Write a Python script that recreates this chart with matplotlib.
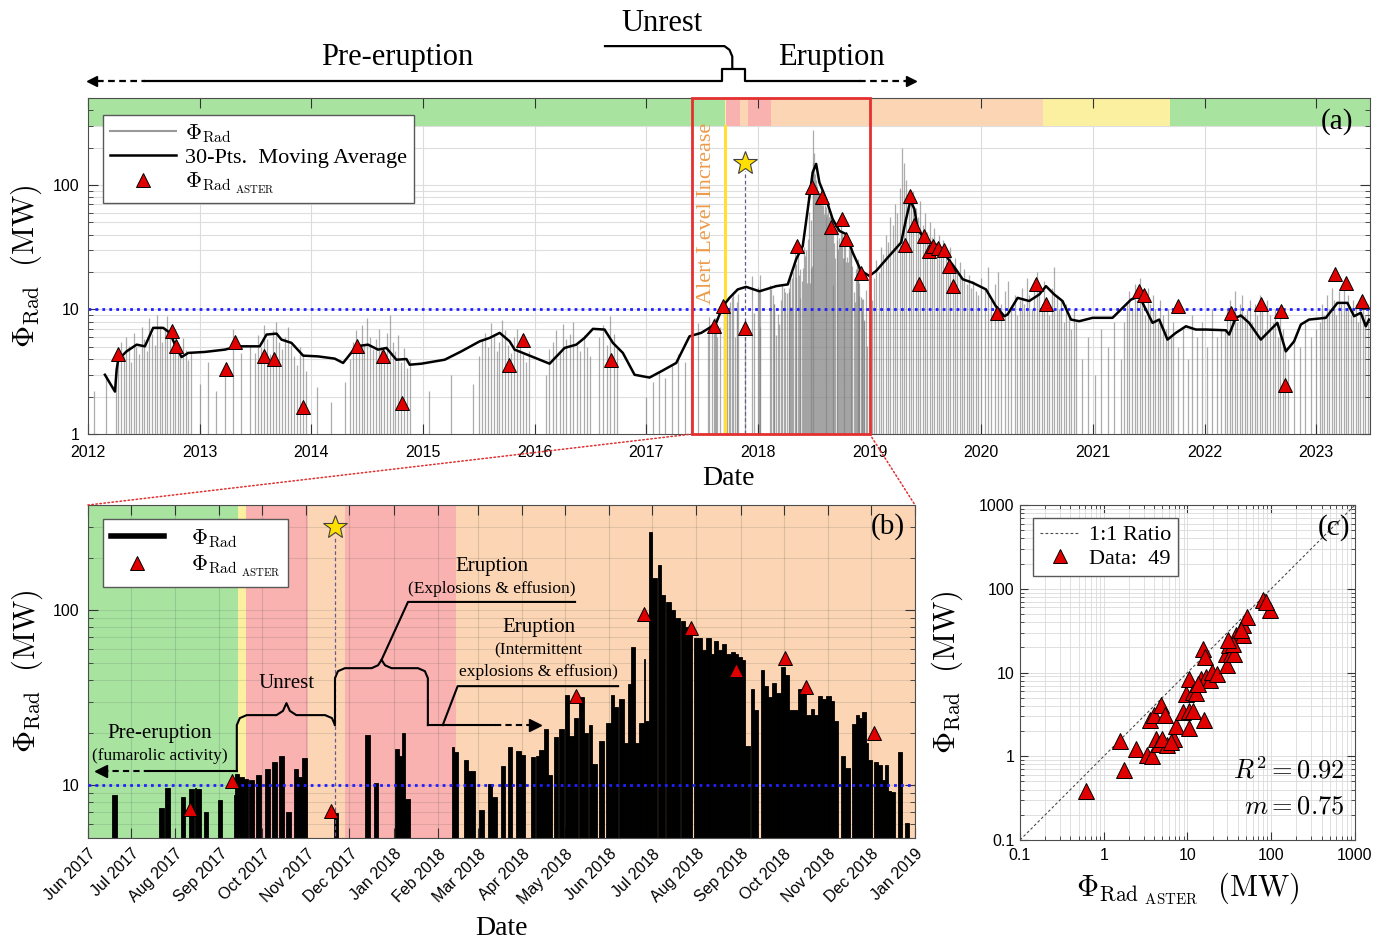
import numpy as np
import pandas as pd
import matplotlib
matplotlib.use("Agg")
import matplotlib.pyplot as plt
from matplotlib.lines import Line2D
from matplotlib.patches import Rectangle, ConnectionPatch
from matplotlib.transforms import blended_transform_factory
from matplotlib.ticker import LogLocator, NullFormatter

plt.rcParams['font.family'] = ['Liberation Sans', 'DejaVu Sans']
plt.rcParams['mathtext.fontset'] = 'cm'
SERIF = ['Liberation Serif', 'DejaVu Serif']

# ---------------- data ----------------
# 30-point moving average, panel (a)
ma_year = [2012.152, 2012.242, 2012.257, 2012.271, 2012.346, 2012.436, 2012.510, 2012.584, 2012.674, 2012.734,
           2012.779, 2012.838, 2012.898, 2013.047, 2013.226, 2013.345, 2013.539, 2013.599, 2013.689, 2013.733,
           2013.823, 2013.927, 2014.061, 2014.210, 2014.285, 2014.345, 2014.404, 2014.508, 2014.598, 2014.673,
           2014.762, 2014.852, 2014.881, 2014.986, 2015.195, 2015.344, 2015.508, 2015.597, 2015.687, 2015.776,
           2015.821, 2015.955, 2016.134, 2016.268, 2016.373, 2016.447, 2016.522, 2016.626, 2016.701, 2016.790,
           2016.895, 2017.029, 2017.148, 2017.268, 2017.327, 2017.387, 2017.492, 2017.566, 2017.626, 2017.685,
           2017.745, 2017.819, 2017.894, 2018.013, 2018.163, 2018.267, 2018.342, 2018.401, 2018.446, 2018.490,
           2018.521, 2018.550, 2018.610, 2018.669, 2018.729, 2018.789, 2018.848, 2018.923, 2018.998, 2019.058,
           2019.162, 2019.282, 2019.326, 2019.365, 2019.401, 2019.430, 2019.505, 2019.624, 2019.684, 2019.773,
           2019.833, 2019.922, 2020.042, 2020.131, 2020.206, 2020.235, 2020.325, 2020.429, 2020.519, 2020.579,
           2020.653, 2020.727, 2020.803, 2020.877, 2020.996, 2021.175, 2021.250, 2021.340, 2021.414, 2021.474,
           2021.533, 2021.593, 2021.667, 2021.742, 2021.832, 2021.921, 2022.011, 2022.190, 2022.219, 2022.279,
           2022.324, 2022.398, 2022.503, 2022.577, 2022.651, 2022.727, 2022.801, 2022.861, 2022.935, 2023.085,
           2023.189, 2023.278, 2023.338, 2023.398, 2023.443, 2023.472]
ma_val = [2.99, 2.19, 3.28, 3.95, 4.61, 5.22, 5.06, 7.12, 7.12, 6.49,
          5.22, 4.15, 4.48, 4.56, 4.76, 5.06, 5.06, 6.29, 6.40, 5.73,
          5.39, 4.26, 4.20, 4.03, 3.72, 4.34, 5.06, 5.22, 4.76, 4.91,
          3.95, 4.00, 3.60, 3.67, 3.95, 4.61, 5.55, 5.91, 6.49, 5.55,
          4.76, 4.26, 3.67, 4.91, 5.22, 5.91, 6.99, 6.90, 5.39, 4.48,
          2.99, 2.84, 3.24, 3.72, 4.76, 6.09, 6.49, 7.12, 7.81, 10.6,
          12.4, 14.5, 15.2, 14.0, 15.4, 15.9, 25.3, 32.4, 64.0, 126.6,
          147.7, 105, 77.1, 53.2, 42.8, 40.3, 28.7, 20.4, 18.6, 20.4,
          26.1, 34.5, 53.2, 74.7, 64.0, 44.2, 35.5, 32.4, 26.9, 21.0,
          17.5, 16.4, 14.5, 10.6, 8.83, 9.11, 12.4, 11.7, 13.2, 15.4,
          13.2, 11.7, 8.30, 8.05, 8.57, 8.57, 10.0, 12.0, 12.8, 10.0,
          7.81, 8.30, 5.73, 6.49, 7.33, 6.90, 6.90, 6.81, 6.29, 8.57,
          8.95, 7.81, 5.73, 6.68, 7.81, 4.61, 5.55, 7.57, 8.30, 8.57,
          11.3, 11.3, 8.83, 9.40, 7.33, 8.30]

# ASTER radiative power
aster_year = [2012.27, 2012.75, 2012.79, 2013.235, 2013.32, 2013.58, 2013.67, 2013.93, 2014.41, 2014.64,
              2014.81, 2015.77, 2015.90, 2016.686, 2017.61, 2017.69, 2017.88, 2018.35, 2018.48, 2018.57,
              2018.655, 2018.75, 2018.79, 2018.92, 2019.32, 2019.36, 2019.40, 2019.445, 2019.49, 2019.53,
              2019.57, 2019.61, 2019.67, 2019.71, 2019.75, 2020.14, 2020.49, 2020.58, 2021.41, 2021.46,
              2021.76, 2022.24, 2022.50, 2022.68, 2022.72, 2023.17, 2023.27, 2023.41]
aster_val = [4.42, 6.68, 5.06, 3.32, 5.49, 4.2, 4.0, 1.64, 5.06, 4.26,
             1.79, 3.6, 5.73, 3.95, 7.33, 10.6, 7.1, 32.4, 95.8, 79.5,
             45.6, 53.2, 36.7, 19.8, 32.8, 82, 47.6, 15.9, 38.6, 29.5,
             32.4, 31.3, 30.1, 22.4, 15.4, 9.4, 16.1, 11.1, 14.1, 13.0,
             10.6, 9.4, 11.0, 9.8, 2.48, 19.1, 16.4, 11.7]

# Phi_Rad detections in the zoom window, days after 2017-06-01
b_day = [17, 50, 54, 65, 71, 75, 76, 81, 91, 102,
         103, 106, 109, 113, 118, 124, 129, 134, 139, 144,
         147, 150, 172, 194, 200, 215, 218, 220, 222, 255,
         256, 263, 266, 268, 274, 280, 283, 289, 294, 300,
         303, 310, 314, 316, 319, 322, 326, 330, 334, 337,
         340, 344, 347, 351, 353, 358, 363, 366, 368, 372,
         375, 378, 380, 383, 386, 389, 390, 393, 395, 399,
         401, 405, 408, 411, 415, 418, 420, 424, 427, 430,
         433, 436, 438, 441, 444, 447, 450, 453, 455, 458,
         460, 464, 466, 471, 473, 476, 479, 482, 485, 488,
         491, 494, 497, 500, 503, 506, 508, 511, 514, 517,
         520, 522, 527, 530, 535, 538, 540, 542, 545, 546,
         550, 553, 556, 558, 560, 562, 567, 572]
b_val = [7.8, 6.4, 8.7, 7.6, 8.5, 8.6, 8.5, 6.0, 7.2, 7.8,
         10.6, 10.1, 9.9, 9.7, 10.5, 11.4, 12.6, 13.7, 6.0, 11.4,
         10.1, 13.3, 5.9, 18.5, 9.3, 15.2, 13.7, 18.8, 7.3, 15.6,
         14.6, 13.0, 11.1, 11.1, 6.2, 9.2, 7.6, 11.9, 15.6, 14.8,
         13.9, 13.5, 13.7, 15.0, 20.0, 10.4, 17.8, 20.0, 32.0, 18.2,
         23.2, 30.8, 19.0, 21.0, 12.3, 16.9, 21.7, 32.0, 27.0, 30.0,
         16.4, 36.7, 60.8, 16.4, 21.7, 52.0, 22.2, 279, 152, 180,
         122, 110, 99, 90, 86, 79, 75, 68.5, 68.5, 58,
         68.5, 55.6, 66, 58, 63, 55.6, 56.6, 55.6, 53.4, 51,
         15.7, 34.4, 26, 44.5, 36, 30.8, 37.5, 32.9, 46.6, 41.7,
         26, 26, 34.4, 32.9, 24.2, 26.4, 24.2, 31.5, 30, 31.5,
         29.5, 22.2, 13.7, 11.5, 21.3, 24.2, 23.2, 25.3, 16.4, 12.9,
         12.6, 12.1, 9.7, 12.1, 8.3, 8.1, 14.4, 5.1]

# Phi_Rad detections outside the zoom window: (first year, last year, values)
grey_clusters = [
    (2012.05, 2012.16, [2.2, 3.0]),
    (2012.25, 2012.92, [3.5, 4.8, 5.5, 4.2, 6.0, 5.1, 3.8, 6.5, 5.0, 4.4, 7.2, 5.8, 4.6, 8.5, 6.3,
                        5.2, 9.0, 7.4, 5.5, 6.8, 8.8, 6.0, 4.9, 7.0, 5.4, 4.3, 5.9, 4.7, 3.9, 4.5]),
    (2013.0, 2013.45, [2.5, 3.8, 2.2, 3.4, 7.0, 4.5, 5.2]),
    (2013.5, 2013.95, [4.5, 6.2, 5.0, 7.5, 5.8, 4.4, 6.8, 8.0, 5.5, 4.8, 6.0, 7.2, 5.2, 4.2, 3.6, 5.0, 4.4, 3.2]),
    (2014.05, 2014.30, [2.4, 1.8, 2.6]),
    (2014.35, 2014.88, [4.0, 5.5, 6.8, 4.6, 7.5, 5.2, 8.6, 6.0, 4.8, 5.8, 7.0, 5.0, 4.2, 6.5, 9.0,
                        5.5, 4.6, 6.2, 3.8, 4.9, 3.4, 4.0]),
    (2015.05, 2015.45, [2.2, 3.0, 2.5]),
    (2015.5, 2015.95, [4.2, 5.8, 6.5, 5.0, 7.8, 6.2, 4.6, 5.5, 8.2, 6.8, 5.2, 4.5, 6.0, 7.0, 5.0, 4.4, 3.8, 4.6]),
    (2016.1, 2016.5, [3.0, 4.8, 5.5, 6.8, 4.6, 7.6, 5.8, 6.4, 8.0, 5.2, 4.6, 6.2, 5.0, 4.2]),
    (2016.58, 2016.74, [6.0, 7.5, 5.2, 8.8, 6.4, 4.8]),
    (2017.0, 2017.4, [2.0, 2.6, 3.2, 2.8, 3.6, 4.4, 3.8, 5.0]),
    (2019.02, 2019.95, [12, 18, 25, 20, 32, 28, 40, 35, 55, 48, 70, 60, 95, 200, 150, 110, 85, 70, 90, 65,
                        55, 75, 48, 60, 42, 50, 38, 45, 33, 40, 30, 36, 28, 25, 32, 22, 26, 20, 24, 18,
                        21, 16, 19, 15, 17, 14]),
    (2019.97, 2020.3, [13, 18, 15, 22, 12, 16, 20, 11, 14, 17, 10, 13]),
    (2020.32, 2020.85, [9, 12, 15, 11, 18, 13, 10, 16, 20, 14, 11, 17, 12, 9, 15, 22, 13, 10, 12, 8,
                        11, 9, 7, 10, 8]),
    (2020.9, 2021.25, [4, 6, 3, 7, 5, 8, 4]),
    (2021.28, 2021.72, [8, 11, 14, 10, 16, 12, 18, 13, 9, 15, 11, 13, 10, 8, 12, 9, 7, 10, 6, 8]),
    (2021.76, 2022.15, [5, 7, 4, 9, 6, 8, 5, 10, 6, 7]),
    (2022.18, 2022.72, [7, 10, 12, 9, 14, 8, 11, 13, 9, 10, 12, 8, 11, 9, 13, 10, 7, 12, 9, 8,
                        10, 6, 9, 7, 5]),
    (2022.75, 2023.0, [4, 6, 5, 8, 6, 7]),
    (2023.03, 2023.48, [8, 11, 9, 13, 10, 15, 12, 9, 14, 11, 16, 10, 13, 9, 12, 11, 8, 10, 12, 9, 11, 8]),
]

# volcanic alert level periods
alert_start = ['2012-01-01', '2017-09-14', '2017-09-20', '2017-11-02', '2017-11-28',
               '2018-02-14', '2020-07-21', '2021-09-09', '2023-07-01']
alert_level = ['green', 'yellow', 'red', 'orange', 'red', 'orange', 'yellow', 'green']
alert_colors = {'green': '#a8e4a0', 'yellow': '#faf0a0', 'red': '#f9b2b0', 'orange': '#fcd6b4'}
alert_increase = '2017-09-14'
eruption_onset = '2017-11-21'
zoom_start, zoom_end = '2017-06-01', '2019-01-01'

# panel (c): ASTER vs MODIS
sc_aster = [0.62, 1.58, 1.74, 2.4, 3.25, 3.8, 3.56, 3.98, 4.88, 5.35,
            4.17, 4.57, 5.65, 6.92, 7.24, 8.95, 9.55, 10.5, 10.3, 11.7,
            10.5, 11.7, 12.8, 14.5, 15.8, 15.4, 16.3, 16.6, 18.7, 19.4,
            22.5, 29.6, 28.8, 31.6, 33.1, 36.3, 38.0, 45.7, 45.7, 51.5,
            79.4, 95.5, 87.0, 34.7, 4.9, 6.3, 13.2, 43.7, 30.2]
sc_rad = [0.39, 1.54, 0.68, 1.23, 1.05, 1.02, 2.68, 3.08, 4.05, 3.08,
          1.61, 1.41, 1.35, 1.61, 2.33, 3.37, 5.58, 3.52, 2.17, 3.52,
          8.43, 5.85, 5.74, 8.43, 2.68, 19.3, 15.3, 8.83, 8.05, 10.1,
          9.7, 12.2, 16.8, 21.1, 16.8, 16.8, 27.9, 27.9, 36.7, 46.2,
          73, 55.5, 69.8, 22.1, 1.61, 1.5, 7.3, 32, 24.2]


def dec_year(s):
    t = pd.Timestamp(s)
    n = 366 if t.is_leap_year else 365
    return t.year + (t.dayofyear - 1) / n


t0 = pd.Timestamp(zoom_start)
t0_year = dec_year(zoom_start)
t1_year = dec_year(zoom_end)
b_span = (pd.Timestamp(zoom_end) - t0).days

RED = '#e00000'
tri = dict(marker='^', ls='none', ms=10, mfc=RED, mec='k', mew=0.7)
YLAB = r'$\Phi_{\mathrm{Rad}}\ \ \mathrm{(MW)}$'

fig = plt.figure(figsize=(13.87, 9.41), dpi=100)
ax_a = fig.add_axes([0.0634, 0.5388, 0.9243, 0.3571])
ax_b = fig.add_axes([0.0634, 0.1095, 0.5963, 0.3538])
ax_c = fig.add_axes([0.7354, 0.1073, 0.2415, 0.3560])

# ---------------- panel (a) ----------------
ax_a.set_yscale('log')
ax_a.set_xlim(2012, 2023.48)
ax_a.set_ylim(1, 500)
for yr in range(2013, 2024):
    ax_a.axvline(yr, color='0.86', lw=0.8, zorder=0.4)
for dec in [1, 10, 100]:
    for m in range(1, 10):
        if 1 < dec * m < 500:
            ax_a.axhline(dec * m, color='0.87', lw=0.8, zorder=0.4)

gx, gv = [], []
for s, e, vals in grey_clusters:
    gx.extend(np.linspace(s, e, len(vals)))
    gv.extend(vals)
gx.extend(t0_year + np.array(b_day) / 365.25)
gv.extend(b_val)
ax_a.vlines(gx, 1, gv, color='0.5', lw=0.9, alpha=0.65, zorder=1.5)

for i, lvl in enumerate(alert_level):
    ax_a.fill_between([dec_year(alert_start[i]), dec_year(alert_start[i + 1])], 300, 500,
                      color=alert_colors[lvl], lw=0, zorder=1.1)

ax_a.axhline(10, color='#2020ff', ls=(0, (1, 1.5)), lw=2, zorder=2.2)
ax_a.plot(ma_year, ma_val, color='k', lw=1.8, zorder=3)
ax_a.plot(aster_year, aster_val, zorder=4, **tri)

xa = dec_year(alert_increase)
ax_a.plot([xa, xa], [1, 300], color='#ffe033', lw=2.2, zorder=2.5)
ax_a.text(xa - 0.16, 11, 'Alert Level Increase', rotation=90, ha='center', va='bottom',
          color='#ee9a4a', fontsize=16, family=SERIF, zorder=3)
xe = dec_year(eruption_onset)
ax_a.plot([xe, xe], [1, 130], ls=(0, (3, 2)), color='#6a5a8a', lw=0.9, zorder=2.6)
ax_a.plot([xe], [150], marker='*', ms=18, mfc='#ffe000', mec='0.25', mew=0.8, zorder=5)

ax_a.add_patch(Rectangle((t0_year, 1), t1_year - t0_year, 499, fill=False, ec='#e53030',
                         lw=2, zorder=6, clip_on=False))

h_a = [Line2D([], [], color='0.6', lw=1.5), Line2D([], [], color='k', lw=1.8), Line2D([], [], **tri)]
l_a = [r'$\Phi_{\mathrm{Rad}}$', '30-Pts.  Moving Average', r'$\Phi_{\mathrm{Rad}\ {}_{\mathrm{ASTER}}}$']
leg = ax_a.legend(h_a, l_a, loc='upper left', bbox_to_anchor=(0.0117, 0.949), borderaxespad=0,
                  fancybox=False, edgecolor='0.35', framealpha=1, prop={'family': SERIF, 'size': 16},
                  handlelength=3.0, labelspacing=0.12, borderpad=0.3, handletextpad=0.4)
leg.set_zorder(10)

ax_a.set_xticks(range(2012, 2024))
ax_a.set_xticklabels([str(y) for y in range(2012, 2024)])
ax_a.set_yticks([1, 10, 100])
ax_a.set_yticklabels(['1', '10', '100'])
ax_a.yaxis.set_minor_locator(LogLocator(base=10, subs=np.arange(2, 10)))
ax_a.yaxis.set_minor_formatter(NullFormatter())
ax_a.tick_params(which='both', direction='in', top=True, right=True, labelsize=11.5, color='0.2')
ax_a.tick_params(which='major', length=7)
ax_a.tick_params(which='minor', length=3.5)
ax_a.tick_params(axis='x', pad=8)
ax_a.tick_params(axis='y', pad=6)
ax_a.set_xlabel('Date', family=SERIF, fontsize=20)
ax_a.xaxis.set_label_coords(0.5, -0.095)
ax_a.set_ylabel(YLAB, fontsize=22)
ax_a.yaxis.set_label_coords(-0.034, 0.5)
ax_a.text(0.987, 0.93, '(a)', transform=ax_a.transAxes, ha='right', va='center', fontsize=21,
          family=SERIF, zorder=7)

# phase annotation above panel (a)
trans = blended_transform_factory(ax_a.transData, fig.transFigure)
lk = dict(transform=trans, clip_on=False, color='k', lw=1.6)
ax_a.plot([2012.51, 2017.674, 2017.674, 2017.88, 2017.88, 2018.908],
          [0.914, 0.914, 0.927, 0.927, 0.914, 0.914], **lk)
ax_a.plot([2012.08, 2012.51], [0.914, 0.914], ls=(0, (3, 2)), **lk)
ax_a.plot([2018.908, 2019.33], [0.914, 0.914], ls=(0, (3, 2)), **lk)
ax_a.plot([2012.04], [0.914], marker='<', ms=7, transform=trans, clip_on=False, color='k')
ax_a.plot([2019.37], [0.914], marker='>', ms=7, transform=trans, clip_on=False, color='k')
ax_a.plot([2016.63, 2017.70, 2017.745, 2017.77, 2017.77], [0.951, 0.951, 0.947, 0.940, 0.927], **lk)
tk = dict(transform=trans, ha='center', va='center', fontsize=22, family=SERIF)
ax_a.text(2017.14, 0.9745, 'Unrest', **tk)
ax_a.text(2014.77, 0.9394, 'Pre-eruption', **tk)
ax_a.text(2018.66, 0.9394, 'Eruption', **tk)

# ---------------- panel (b) ----------------
ax_b.set_yscale('log')
ax_b.set_xlim(0, b_span)
ax_b.set_ylim(5, 400)
ax_b.set_axisbelow(True)
for i, lvl in enumerate(alert_level):
    d0 = (pd.Timestamp(alert_start[i]) - t0).days
    d1 = (pd.Timestamp(alert_start[i + 1]) - t0).days
    if d1 > 0 and d0 < b_span:
        ax_b.axvspan(max(d0, 0), min(d1, b_span), color=alert_colors[lvl], lw=0, zorder=0)

bd = np.array(b_day, dtype=float)
bw = np.minimum(np.diff(bd, append=bd[-1] + 3), 3.2)
ax_b.bar(bd, b_val, width=bw, bottom=1, align='edge', color='k', edgecolor='k', lw=0.6, zorder=2)
ax_b.axhline(10, color='#2020ff', ls=(0, (1, 1.5)), lw=2, zorder=3)

a_days = (np.array(aster_year) - t0_year) * 365.25
sel = (a_days > 0) & (a_days < b_span)
ax_b.plot(a_days[sel], np.array(aster_val)[sel], zorder=4, **tri)
de = (pd.Timestamp(eruption_onset) - t0).days
ax_b.plot([de, de], [1, 265], ls=(0, (3, 2)), color='#6a5a8a', lw=0.9, zorder=3.5)
ax_b.plot([de], [300], marker='*', ms=18, mfc='#ffe000', mec='0.25', mew=0.8, zorder=5)

months = pd.date_range(zoom_start, zoom_end, freq='MS')
ax_b.set_xticks([(m - t0).days for m in months])
ax_b.set_xticklabels([m.strftime('%b %Y') for m in months], rotation=45, ha='right',
                     rotation_mode='anchor', fontsize=11.5)
ax_b.set_yticks([10, 100])
ax_b.set_yticklabels(['10', '100'])
ax_b.yaxis.set_minor_locator(LogLocator(base=10, subs=np.arange(2, 10)))
ax_b.yaxis.set_minor_formatter(NullFormatter())
ax_b.grid(True, which='major', axis='x', color='0.3', alpha=0.18, lw=0.8)
ax_b.grid(True, which='both', axis='y', color='0.3', alpha=0.15, lw=0.8)
ax_b.tick_params(which='both', direction='in', top=True, right=True, labelsize=11.5, color='0.2')
ax_b.tick_params(which='major', length=7)
ax_b.tick_params(which='minor', length=3.5)
ax_b.tick_params(axis='x', pad=6)
ax_b.tick_params(axis='y', pad=6)
ax_b.set_xlabel('Date', family=SERIF, fontsize=20)
ax_b.xaxis.set_label_coords(0.5, -0.235)
ax_b.set_ylabel(YLAB, fontsize=22)
ax_b.yaxis.set_label_coords(-0.052, 0.5)
ax_b.text(0.988, 0.934, '(b)', transform=ax_b.transAxes, ha='right', va='center', fontsize=21,
          family=SERIF, zorder=7)

h_b = [Line2D([], [], color='k', lw=4), Line2D([], [], **tri)]
l_b = [r'$\Phi_{\mathrm{Rad}}$', r'$\Phi_{\mathrm{Rad}\ {}_{\mathrm{ASTER}}}$']
leg_b = ax_b.legend(h_b, l_b, loc='upper left', bbox_to_anchor=(0.018, 0.958), borderaxespad=0,
                    fancybox=False, edgecolor='0.35', framealpha=1, prop={'family': SERIF, 'size': 16},
                    handlelength=2.4, labelspacing=0.2, borderpad=0.35, handletextpad=1.2)
leg_b.set_zorder(10)


def brace(ax, x0, y0, x1, y1, ytop, xm, ypk, rx=0.012, ry=0.03):
    h = ypk - ytop
    xs = [x0, x0, x0 + 0.3 * rx, x0 + rx, xm - rx, xm - 0.35 * rx, xm,
          xm + 0.35 * rx, xm + rx, x1 - rx, x1 - 0.3 * rx, x1, x1]
    ys = [y0, ytop - ry, ytop - 0.3 * ry, ytop, ytop, ytop + 0.35 * h, ypk,
          ytop + 0.35 * h, ytop, ytop, ytop - 0.3 * ry, ytop - ry, y1]
    ax.plot(xs, ys, color='k', lw=1.5, transform=ax.transAxes, clip_on=False, zorder=6)


bk = dict(color='k', lw=1.5, transform=ax_b.transAxes, clip_on=False, zorder=6)
ax_b.plot([0.180, 0.075], [0.201, 0.201], **bk)
ax_b.plot([0.075, 0.024], [0.201, 0.201], ls=(0, (3, 2)), **bk)
ax_b.plot([0.016], [0.201], marker='<', ms=8, color='k', transform=ax_b.transAxes, zorder=6)
brace(ax_b, 0.180, 0.201, 0.2987, 0.339, 0.369, 0.240, 0.405)
brace(ax_b, 0.2987, 0.339, 0.411, 0.339, 0.51, 0.355, 0.535)
ax_b.plot([0.355, 0.387, 0.589], [0.535, 0.709, 0.709], **bk)
ax_b.plot([0.411, 0.492], [0.339, 0.339], **bk)
ax_b.plot([0.492, 0.533], [0.339, 0.339], ls=(0, (3, 2)), **bk)
ax_b.plot([0.541], [0.339], marker='>', ms=8, color='k', transform=ax_b.transAxes, zorder=6)
ax_b.plot([0.429, 0.447, 0.641], [0.339, 0.456, 0.456], **bk)

txb = dict(transform=ax_b.transAxes, ha='center', va='center', family=SERIF, zorder=6)
ax_b.text(0.087, 0.315, 'Pre-eruption', fontsize=15, **txb)
ax_b.text(0.087, 0.247, '(fumarolic activity)', fontsize=12.5, **txb)
ax_b.text(0.240, 0.465, 'Unrest', fontsize=15, **txb)
ax_b.text(0.488, 0.815, 'Eruption', fontsize=15, **txb)
ax_b.text(0.488, 0.748, '(Explosions & effusion)', fontsize=12.5, **txb)
ax_b.text(0.545, 0.631, 'Eruption', fontsize=15, **txb)
ax_b.text(0.545, 0.562, '(Intermittent', fontsize=12.5, **txb)
ax_b.text(0.545, 0.499, 'explosions & effusion)', fontsize=12.5, **txb)

# connectors from the zoom box
for xa_, xb_ in [(t0_year, 0), (t1_year, 1)]:
    con = ConnectionPatch(xyA=(xa_, 1), coordsA=ax_a.transData, xyB=(xb_, 1), coordsB=ax_b.transAxes,
                          color='#e03030', ls=':', lw=1.1)
    fig.add_artist(con)

# ---------------- panel (c) ----------------
ax_c.set_xscale('log')
ax_c.set_yscale('log')
ax_c.set_xlim(0.1, 1000)
ax_c.set_ylim(0.1, 1000)
ax_c.set_axisbelow(True)
ax_c.grid(True, which='both', color='0.86', lw=0.6)
ax_c.plot([0.1, 1000], [0.1, 1000], ls=(0, (2.5, 2)), color='0.3', lw=0.8, zorder=2)
ax_c.plot(sc_aster, sc_rad, zorder=3, **dict(tri, ms=11))
dec_ticks = [0.1, 1, 10, 100, 1000]
dec_lbls = ['0.1', '1', '10', '100', '1000']
ax_c.set_xticks(dec_ticks)
ax_c.set_xticklabels(dec_lbls)
ax_c.set_yticks(dec_ticks)
ax_c.set_yticklabels(dec_lbls)
for axis in (ax_c.xaxis, ax_c.yaxis):
    axis.set_minor_locator(LogLocator(base=10, subs=np.arange(2, 10)))
    axis.set_minor_formatter(NullFormatter())
ax_c.tick_params(which='both', direction='in', top=True, right=True, labelsize=11.5, color='0.2')
ax_c.tick_params(which='major', length=6)
ax_c.tick_params(which='minor', length=3)
ax_c.tick_params(axis='x', pad=6)
ax_c.tick_params(axis='y', pad=4)
ax_c.set_xlabel(r'$\Phi_{\mathrm{Rad}\ {}_{\mathrm{ASTER}}}\ \ \mathrm{(MW)}$', fontsize=22)
ax_c.xaxis.set_label_coords(0.5, -0.09)
ax_c.set_ylabel(YLAB, fontsize=22)
ax_c.yaxis.set_label_coords(-0.164, 0.5)
h_c = [Line2D([], [], ls=(0, (2.5, 2)), color='0.3', lw=0.8), Line2D([], [], **tri)]
leg_c = ax_c.legend(h_c, ['1:1 Ratio', 'Data:  %d' % len(sc_aster)], loc='upper left',
                    bbox_to_anchor=(0.039, 0.961), borderaxespad=0, fancybox=False, edgecolor='0.35',
                    framealpha=1, prop={'family': SERIF, 'size': 16}, handlelength=1.8,
                    labelspacing=0.15, borderpad=0.3, handletextpad=0.4)
ax_c.text(0.97, 0.209, r'$R^2 = 0.92$', transform=ax_c.transAxes, ha='right', va='center', fontsize=19)
ax_c.text(0.97, 0.101, r'$m = 0.75$', transform=ax_c.transAxes, ha='right', va='center', fontsize=19)
ax_c.text(0.985, 0.934, '(c)', transform=ax_c.transAxes, ha='right', va='center', fontsize=21,
          family=SERIF, zorder=7)

for ax in (ax_a, ax_b, ax_c):
    for sp in ax.spines.values():
        sp.set_color('0.3')

fig.savefig('out.png', dpi=100)
